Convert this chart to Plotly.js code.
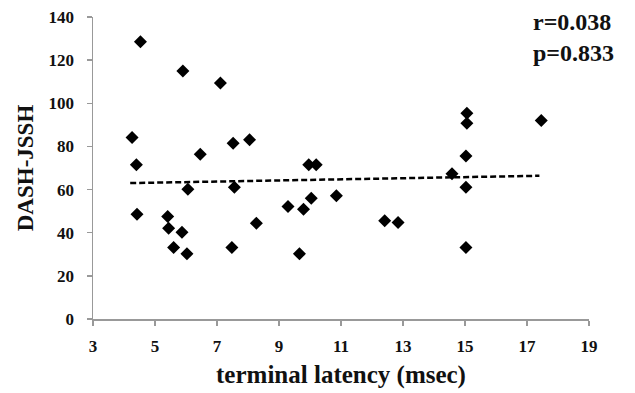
<!DOCTYPE html>
<html>
<head>
<meta charset="utf-8">
<script src="https://cdn.plot.ly/plotly-3.0.1.min.js"></script>
<style>html,body{margin:0;padding:0;background:#fff;}#chart{width:635px;height:393px;}</style>
</head>
<body>
<div id="chart"></div>
<script>
// Scatter data: terminal latency (msec) vs DASH-JSSH
var latency = [4.53, 5.90, 7.11, 4.26, 4.40, 6.46, 7.52, 8.05, 9.96, 10.2,
               4.42, 5.41, 5.44, 5.87, 5.60, 6.03, 6.06, 7.48, 7.56, 8.27,
               9.29, 9.79, 9.66, 10.04, 10.85, 12.41, 12.84, 15.03, 15.03, 14.58,
               15.06, 15.06, 15.03, 17.46];
var dashJssh = [128.5, 115, 109.4, 84.1, 71.5, 76.4, 81.5, 83.1, 71.5, 71.5,
                48.6, 47.5, 42.1, 40.2, 33.1, 30.2, 60.2, 33.1, 61.1, 44.4,
                52.1, 50.9, 30.2, 56.0, 57.1, 45.5, 44.7, 61.1, 33.1, 67.3,
                95.4, 90.8, 75.6, 92.0];
// Linear trend line endpoints
var trendX = [4.2, 17.4];
var trendY = [63.0, 66.4];
var xTicks = [3, 5, 7, 9, 11, 13, 15, 17, 19];
var yTicks = [0, 20, 40, 60, 80, 100, 120, 140];
var statLabels = ["r=0.038", "p=0.833"];

var fontFam = '"Liberation Serif", "Times New Roman", serif';

var traces = [
  {x: latency, y: dashJssh, mode: 'markers', type: 'scatter',
   marker: {symbol: 'diamond', size: 10, color: '#000'}, hoverinfo: 'x+y'},
  {x: trendX, y: trendY, mode: 'lines', type: 'scatter',
   line: {color: '#000', width: 2.5, dash: '6px,3px'}, hoverinfo: 'skip'}
];

var layout = {
  width: 635, height: 393,
  margin: {l: 93, r: 46, t: 17, b: 74},
  paper_bgcolor: '#fff', plot_bgcolor: '#fff',
  showlegend: false,
  font: {family: fontFam, color: '#111', size: 17},
  xaxis: {
    range: [3, 19], tickmode: 'array', tickvals: xTicks, ticktext: xTicks.map(function(v){return '<b>' + v + '</b>';}),
    showgrid: false, zeroline: false, showline: true, linecolor: '#999', linewidth: 1.5,
    ticks: 'outside', ticklen: 5, tickcolor: '#999', tickwidth: 1.5,
    tickfont: {family: fontFam, size: 17, color: '#111', weight: 700},
    ticklabelstandoff: 6,
    title: {text: '<b>terminal latency (msec)</b>', font: {family: fontFam, size: 25, color: '#111'}, standoff: 10}
  },
  yaxis: {
    range: [0, 140], tickmode: 'array', tickvals: yTicks, ticktext: yTicks.map(function(v){return '<b>' + v + '</b>';}),
    showgrid: false, zeroline: false, showline: true, linecolor: '#999', linewidth: 1.5,
    ticks: 'outside', ticklen: 5, tickcolor: '#999', tickwidth: 1.5,
    tickfont: {family: fontFam, size: 17, color: '#111', weight: 700},
    ticklabelstandoff: 9,
    title: {text: '<b>DASH-JSSH</b>', font: {family: fontFam, size: 23, color: '#111'}, standoff: 8}
  },
  annotations: [
    {xref: 'paper', yref: 'paper', x: 0.883, y: 0.982, xanchor: 'left', yanchor: 'middle',
     text: '<b>' + statLabels[0] + '</b>', showarrow: false, font: {family: fontFam, size: 24, color: '#111'}},
    {xref: 'paper', yref: 'paper', x: 0.883, y: 0.88, xanchor: 'left', yanchor: 'middle',
     text: '<b>' + statLabels[1] + '</b>', showarrow: false, font: {family: fontFam, size: 24, color: '#111'}}
  ]
};

Plotly.newPlot('chart', traces, layout, {displayModeBar: false, staticPlot: true});
</script>
</body>
</html>
